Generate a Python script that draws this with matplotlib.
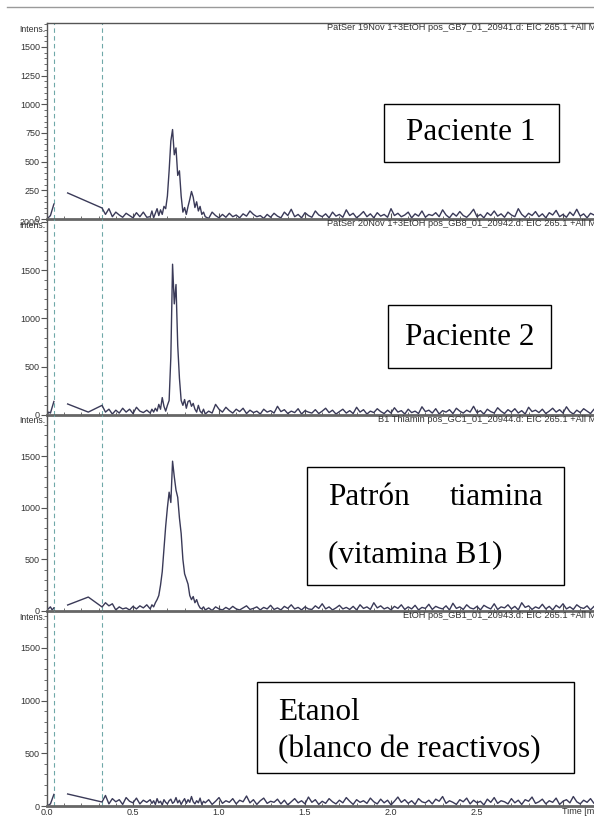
import numpy as np
import matplotlib
matplotlib.use("Agg")
import matplotlib.pyplot as plt
from matplotlib.lines import Line2D
from matplotlib.patches import Rectangle
from matplotlib.ticker import MultipleLocator, FixedLocator

# ---------------- data ----------------
panel_titles = [
    "PatSer 19Nov 1+3EtOH pos_GB7_01_20941.d: EIC 265.1 +All MS",
    "PatSer 20Nov 1+3EtOH pos_GB8_01_20942.d: EIC 265.1 +All MS",
    "B1 Thiamin pos_GC1_01_20944.d: EIC 265.1 +All MS",
    "EtOH pos_GB1_01_20943.d: EIC 265.1 +All MS",
]
y_limits = [1709, 2028, 1897, 1851]
y_major = [250, 500, 500, 500]
y_minor = [50, 100, 100, 100]
x_ticks = [0.0, 0.5, 1.0, 1.5, 2.0, 2.5]
x_ticklabels = ["0.0", "0.5", "1.0", "1.5", "2.0", "2.5"]
x_label = "Time [min]"
marker_times = [0.04, 0.32]

# early spike segment (time, intensity)
p1_spike_t = [0.0, 0.02, 0.04]
p1_spike_y = [0, 30, 130]
p2_spike_t = [0.0, 0.01, 0.02, 0.04]
p2_spike_y = [0, 30, 20, 140]
p3_spike_t = [0.0, 0.02, 0.03, 0.04]
p3_spike_y = [10, 40, 10, 30]
p4_spike_t = [0.0, 0.02, 0.04]
p4_spike_y = [0, 20, 110]

# straight segment before the acquisition grid
p1_line_t = [0.12, 0.32]
p1_line_y = [227, 96]
p2_line_t = [0.12, 0.24, 0.32]
p2_line_y = [114, 30, 100]
p3_line_t = [0.12, 0.24, 0.32]
p3_line_y = [58, 135, 39]
p4_line_t = [0.12, 0.32]
p4_line_y = [114, 38]

# segment A: 0.32-0.58 min, 0.02 min steps
p1_a = [96, 40, 90, 20, 60, 35, 15, 50, 30, 10, 55, 20, 60, 15]
p2_a = [100, 30, 60, 10, 50, 20, 70, 30, 60, 15, 80, 40, 25, 50]
p3_a = [39, 80, 50, 70, 10, 40, 20, 30, 10, 45, 20, 50, 30, 60]
p4_a = [38, 100, 20, 70, 40, 60, 15, 80, 45, 30, 75, 20, 55, 35]

# segment B: 0.60-0.91 min, 0.01 min steps (peak region)
p1_b = [20, 70, 10, 50, 90, 30, 80, 40, 110, 90, 200, 420, 680, 780, 560, 620,
        380, 420, 200, 60, 100, 40, 110, 170, 240, 190, 100, 150, 70, 110, 40, 60]
p2_b = [20, 60, 30, 70, 40, 110, 60, 180, 90, 40, 100, 150, 600, 1560, 1150, 1350,
        720, 380, 150, 100, 160, 70, 140, 150, 90, 120, 60, 30, 100, 40, 20, 60]
p3_b = [20, 60, 40, 80, 110, 150, 250, 380, 600, 820, 1000, 1150, 1050, 1450, 1300, 1170,
        1100, 900, 750, 500, 360, 310, 260, 150, 110, 140, 80, 110, 60, 30, 20, 40]
p4_b = [60, 25, 50, 15, 70, 30, 45, 10, 60, 35, 20, 50, 65, 25, 40, 80,
        30, 55, 15, 45, 70, 25, 60, 35, 90, 40, 20, 50, 30, 75, 15, 45]

# segment C: from 0.92 min, 0.02 min steps
p1_c = [20, 5, 60, 30, 10, 40, 15, 50, 20, 35, 10, 45, 25, 70, 40, 20, 30, 5, 40, 15,
        50, 25, 10, 60, 30, 85, 20, 40, 10, 55, 30, 15, 70, 35, 20, 45, 10, 60, 25, 40,
        15, 80, 30, 50, 10, 35, 65, 20, 45, 10, 55, 25, 40, 15, 90, 30, 50, 20, 35, 60,
        10, 45, 25, 70, 15, 40, 30, 55, 20, 80, 35, 10, 50, 25, 65, 30, 15, 45, 85, 20,
        40, 10, 55, 30, 70, 25, 45, 15, 60, 35, 20, 90, 40, 15, 50, 30, 65, 20, 45, 10,
        55, 35, 75, 20, 40, 15, 60, 30, 85, 25, 45, 10, 50, 35, 70]
p2_c = [10, 40, 20, 110, 60, 30, 80, 45, 20, 60, 35, 70, 15, 50, 25, 40, 10, 60, 30, 45,
        20, 90, 35, 55, 15, 40, 25, 65, 10, 45, 30, 20, 55, 15, 40, 70, 25, 50, 10, 35,
        60, 20, 45, 15, 80, 30, 55, 10, 40, 25, 65, 35, 15, 50, 20, 75, 30, 45, 10, 60,
        25, 40, 15, 85, 35, 50, 20, 65, 10, 45, 30, 55, 15, 70, 40, 20, 50, 30, 90, 25,
        45, 10, 60, 35, 20, 75, 40, 15, 55, 30, 65, 20, 45, 10, 80, 35, 50, 25, 60, 15,
        40, 70, 30, 55, 20, 85, 35, 10, 50, 25, 65, 40, 15, 60, 30]
p3_c = [10, 30, 5, 40, 20, 10, 35, 15, 45, 20, 10, 30, 50, 15, 25, 40, 10, 35, 20, 55,
        15, 30, 10, 45, 25, 60, 20, 35, 10, 40, 20, 15, 50, 25, 70, 20, 40, 10, 30, 55,
        20, 35, 15, 45, 10, 60, 25, 40, 15, 80, 30, 50, 20, 35, 10, 45, 25, 60, 15, 40,
        20, 55, 10, 35, 25, 65, 15, 45, 30, 20, 50, 10, 75, 25, 40, 15, 60, 30, 20, 45,
        10, 55, 35, 20, 70, 15, 40, 30, 60, 20, 45, 10, 80, 35, 50, 15, 40, 25, 65, 20,
        45, 10, 55, 30, 70, 20, 40, 15, 60, 35, 25, 50, 10, 45, 30]
p4_c = [30, 60, 15, 45, 80, 25, 50, 35, 70, 20, 55, 40, 95, 30, 60, 15, 50, 75, 25, 45,
        35, 65, 20, 55, 10, 40, 70, 30, 50, 20, 85, 35, 60, 15, 45, 25, 70, 40, 20, 55,
        30, 80, 45, 15, 60, 35, 50, 25, 75, 40, 20, 65, 30, 55, 10, 45, 85, 35, 60, 25,
        50, 15, 70, 40, 30, 55, 20, 65, 45, 90, 25, 50, 35, 15, 60, 40, 75, 20, 55, 30,
        45, 10, 65, 35, 80, 25, 50, 40, 20, 70, 30, 55, 15, 60, 45, 85, 25, 40, 65, 20,
        50, 35, 75, 15, 45, 60, 30, 90, 40, 20, 55, 35, 70, 25, 50]

panels = [
    (p1_spike_t, p1_spike_y, p1_line_t, p1_line_y, p1_a, p1_b, p1_c),
    (p2_spike_t, p2_spike_y, p2_line_t, p2_line_y, p2_a, p2_b, p2_c),
    (p3_spike_t, p3_spike_y, p3_line_t, p3_line_y, p3_a, p3_b, p3_c),
    (p4_spike_t, p4_spike_y, p4_line_t, p4_line_y, p4_a, p4_b, p4_c),
]

# ---------------- layout ----------------
W, H = 594, 818
fig = plt.figure(figsize=(W / 100, H / 100), dpi=100)
fig.patch.set_facecolor("white")

def fx(x):
    return x / W

def fy(y):
    return 1 - y / H

sans = ["Liberation Sans", "DejaVu Sans"]
serif = ["Liberation Serif", "DejaVu Serif"]
trace_col = "#3a3a58"
axis_col = "#555555"
dash_col = "#6fa8a8"

tops = [23, 219, 415, 611]
bots = [219, 415, 611, 806]
left_px = 47
xmax = (W - left_px) / 172.0

fig.add_artist(Line2D([fx(7), 1], [fy(7), fy(7)], color="#9a9a9a", lw=1.0,
                      transform=fig.transFigure))

for i, (st, sy, lt, ly, a, b, c) in enumerate(panels):
    top, bot = tops[i], bots[i]
    ax = fig.add_axes([fx(left_px), fy(bot), 1 - fx(left_px), (bot - top) / H])
    ax.set_xlim(0, xmax)
    ax.set_ylim(0, y_limits[i])
    ax.patch.set_alpha(0)

    t_a = 0.32 + 0.02 * np.arange(len(a))
    t_b = 0.60 + 0.01 * np.arange(len(b))
    t_c = 0.92 + 0.02 * np.arange(len(c))
    t_main = np.concatenate([lt[:-1], t_a, t_b, t_c])
    y_main = np.concatenate([ly[:-1], a, b, c])

    ax.plot(st, sy, color=trace_col, lw=1.0, clip_on=True)
    ax.plot(t_main, y_main, color=trace_col, lw=1.0, clip_on=True)

    for mt in marker_times:
        ax.axvline(mt, color=dash_col, lw=0.8, ls=(0, (4, 3)), zorder=0)

    ax.spines["right"].set_visible(False)
    ax.spines["top"].set_visible(i == 0)
    ax.spines["top"].set_color(axis_col)
    ax.spines["top"].set_linewidth(1.0)
    ax.spines["left"].set_color(axis_col)
    ax.spines["left"].set_linewidth(1.0)
    ax.spines["bottom"].set_color("#666666")
    ax.spines["bottom"].set_linewidth(2.0)
    ax.spines["bottom"].set_zorder(5)

    ax.yaxis.set_major_locator(MultipleLocator(y_major[i]))
    ax.yaxis.set_minor_locator(MultipleLocator(y_minor[i]))
    ax.tick_params(axis="y", which="major", length=4, width=0.8, color=axis_col,
                   labelsize=6.5, labelcolor="#333333", pad=1)
    ax.tick_params(axis="y", which="minor", length=2, width=0.6, color=axis_col)
    for lab in ax.get_yticklabels():
        lab.set_family(sans)

    ax.xaxis.set_major_locator(FixedLocator(x_ticks + [3.0]))
    ax.xaxis.set_minor_locator(MultipleLocator(0.1))
    ax.tick_params(axis="x", which="major", direction="in", length=4, width=0.8,
                   color=axis_col, labelsize=6.5, labelcolor="#333333", pad=1.5)
    ax.tick_params(axis="x", which="minor", direction="in", length=2, width=0.6,
                   color=axis_col)
    if i == 3:
        ax.set_xticklabels(x_ticklabels + [""], family=sans)
        ax.text(3.0 - 0.005, -0.028, x_label, transform=ax.get_xaxis_transform(),
                ha="left", va="center", fontsize=6.5, family=sans, color="#333333")
    else:
        ax.set_xticklabels([])

    # "Intens." label and panel title
    fig.text(fx(45), fy(top + 6), "Intens.", ha="right", va="center",
             fontsize=6.3, family=sans, color="#333333")
    fig.text(fx(W + 8), fy(top + 5), panel_titles[i], ha="right", va="center",
             fontsize=6.7, family=sans, color="#333333")

# ---------------- annotation boxes ----------------
def box(x0, y0, x1, y1):
    fig.add_artist(Rectangle((fx(x0), fy(y1)), fx(x1) - fx(x0), (y1 - y0) / H,
                             transform=fig.transFigure, fill=True, facecolor="white",
                             edgecolor="black", lw=1.0, zorder=10))

fs = 22.5
box(384, 104, 559, 162)
fig.text(fx(471), fy(133), "Paciente 1", ha="center", va="center", fontsize=fs,
         family=serif, zorder=11)
box(388, 305, 551, 368)
fig.text(fx(470), fy(337), "Paciente 2", ha="center", va="center", fontsize=fs,
         family=serif, zorder=11)
box(307, 467, 564, 585)
fig.text(fx(328), fy(497), "Patrón", ha="left", va="center", fontsize=fs,
         family=serif, zorder=11)
fig.text(fx(543), fy(497), "tiamina", ha="right", va="center", fontsize=fs,
         family=serif, zorder=11)
fig.text(fx(328), fy(555), "(vitamina B1)", ha="left", va="center", fontsize=fs,
         family=serif, zorder=11)
box(257, 682, 574, 773)
fig.text(fx(278), fy(712), "Etanol", ha="left", va="center", fontsize=fs,
         family=serif, zorder=11)
fig.text(fx(278), fy(750), "(blanco de reactivos)", ha="left", va="center",
         fontsize=fs, family=serif, zorder=11)

fig.savefig("out.png", dpi=100, facecolor="white")
